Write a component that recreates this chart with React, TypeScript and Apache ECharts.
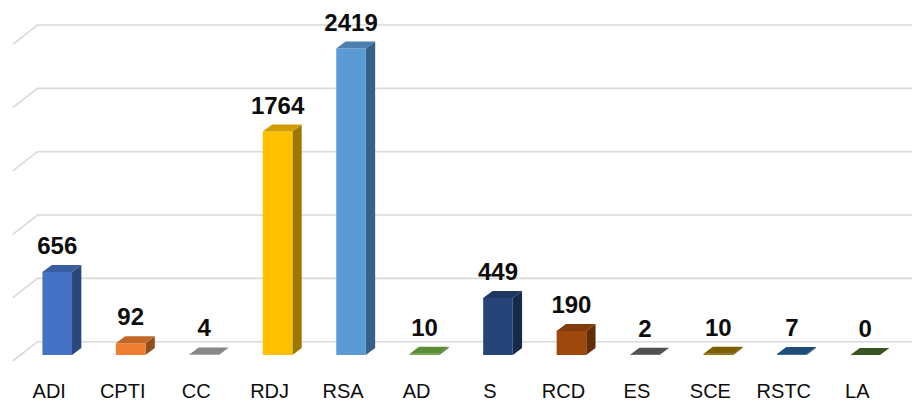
import React, { useEffect, useRef } from "react";
import * as echarts from "echarts";

const categories = ["ADI", "CPTI", "CC", "RDJ", "RSA", "AD", "S", "RCD", "ES", "SCE", "RSTC", "LA"];
const values = [656, 92, 4, 1764, 2419, 10, 449, 190, 2, 10, 7, 0];
const colors = ["#4472C4", "#ED7D31", "#A5A5A5", "#FFC000", "#5B9BD5", "#70AD47", "#264478", "#9E480E", "#636363", "#997300", "#255E91", "#43682B"];
const ticks = [0, 500, 1000, 1500, 2000, 2500];

function shade(hex: string, f: number): string {
  const n = parseInt(hex.slice(1), 16);
  const r = Math.round(((n >> 16) & 255) * f);
  const g = Math.round(((n >> 8) & 255) * f);
  const b = Math.round((n & 255) * f);
  return "rgb(" + r + "," + g + "," + b + ")";
}

// perspective offsets (pixels)
const DEPTH_X = 9.3;
const DEPTH_Y = -7;
const WALL_DY = -13.3;
const WALL_DX = 17;
const FLOOR_DY = 6;
const FLOOR_DX = -7.7;

export default function App() {
  const ref = useRef<HTMLDivElement>(null);
  useEffect(() => {
    if (!ref.current) return;
    const chart = echarts.init(ref.current, null, { renderer: "svg" });
    chart.setOption({
      animation: false,
      grid: { left: 20.5, right: 10, top: 38.3, bottom: 46, containLabel: false, outerBoundsMode: "none" },
      xAxis: {
        type: "category",
        data: categories,
        axisLine: { show: false },
        axisTick: { show: false },
        splitLine: { show: false },
        axisLabel: {
          interval: 0,
          margin: 27,
          fontSize: 20,
          lineHeight: 18,
          fontFamily: "Liberation Sans",
          color: "#0d0d0d",
          padding: [0, 16, 0, 0],
        },
      },
      yAxis: {
        type: "value",
        min: 0,
        max: 2500,
        interval: 500,
        axisLine: { show: false },
        axisTick: { show: false },
        axisLabel: { show: false },
        splitLine: { show: false },
      },
      series: [
        {
          type: "custom",
          z: 1,
          silent: true,
          data: ticks.map((t) => [0, t]),
          renderItem: (params: any, api: any) => {
            const y = api.coord([0, api.value(1)])[1];
            const x0 = params.coordSys.x;
            return {
              type: "polyline",
              shape: {
                points: [
                  [x0 + FLOOR_DX, y + FLOOR_DY],
                  [x0 + WALL_DX, y + WALL_DY],
                  [912, y + WALL_DY],
                ],
              },
              style: { stroke: "#d9d9d9", lineWidth: 1.6, fill: "none" },
            };
          },
        },
        {
          type: "custom",
          z: 2,
          data: values.map((v, i) => [i, v]),
          renderItem: (params: any, api: any) => {
            const i = api.value(0);
            const v = api.value(1);
            const top = api.coord([i, v]);
            const base = api.coord([i, 0]);
            const band = api.size([1, 0])[0];
            const hw = band * 0.2015;
            const cx = top[0];
            const ty = top[1];
            const by = base[1];
            const c = colors[params.dataIndex];
            const children: any[] = [];
            if (by - ty > 0.01) {
              children.push({
                type: "polygon",
                shape: {
                  points: [
                    [cx + hw, ty],
                    [cx + hw + DEPTH_X, ty + DEPTH_Y],
                    [cx + hw + DEPTH_X, by + DEPTH_Y],
                    [cx + hw, by],
                  ],
                },
                style: { fill: shade(c, 0.62) },
              });
              children.push({
                type: "rect",
                shape: { x: cx - hw, y: ty, width: hw * 2, height: by - ty },
                style: { fill: c },
              });
            }
            children.push({
              type: "polygon",
              shape: {
                points: [
                  [cx - hw, ty],
                  [cx - hw + DEPTH_X, ty + DEPTH_Y],
                  [cx + hw + DEPTH_X, ty + DEPTH_Y],
                  [cx + hw, ty],
                ],
              },
              style: { fill: shade(c, 0.82) },
            });
            children.push({
              type: "text",
              style: {
                text: String(v),
                x: cx,
                y: ty - 26.5,
                align: "center",
                verticalAlign: "middle",
                fontSize: 24,
                fontWeight: "bold",
                fontFamily: "Liberation Sans",
                fill: "#0d0d0d",
              },
            });
            return { type: "group", children };
          },
        },
      ],
    });
    return () => chart.dispose();
  }, []);
  return (
    <div
      ref={ref}
      style={{ position: "fixed", left: 0, top: 0, width: 912, height: 401, background: "#fff" }}
    />
  );
}
